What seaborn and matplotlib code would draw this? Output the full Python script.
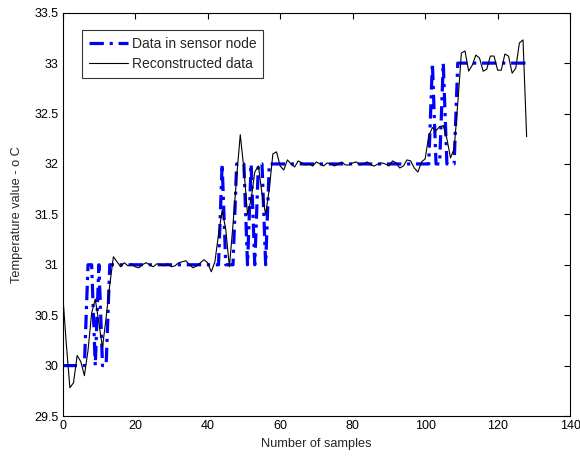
import matplotlib
matplotlib.use("Agg")
import matplotlib.pyplot as plt
import seaborn as sns
import numpy as np
import pandas as pd

# sample index
samples = np.arange(129)

# temperature read at the sensor node (quantised to whole degrees)
sensor = (
    [30, 30, 30, 30, 30, 30, 30]
    + [31, 31, 30, 31, 30, 30, 31]
    + [31] * 29
    + [31, 32, 31, 31, 31, 32, 32, 32, 31, 32, 31, 32, 32, 31, 32]
    + [32] * 44
    + [33, 32, 32, 33, 32, 32, 32, 33]
    + [33] * 19
)

# temperature reconstructed at the sink
reconstructed = [
    30.72, 30.22, 29.78, 29.83, 30.10, 30.04, 29.90, 30.15, 30.52, 30.66,
    30.42, 30.18, 30.48, 30.80, 31.08, 31.03, 30.98, 31.02, 30.99, 31.01,
    30.98, 30.97, 31.00, 31.02, 31.00, 30.98, 31.01, 31.00, 30.99, 31.01,
    30.98, 30.99, 31.02, 31.03, 31.04, 31.00, 30.97, 30.99, 31.02, 31.05,
    31.02, 30.93, 31.03, 31.30, 31.54, 31.35, 30.98, 31.40, 31.87, 32.29,
    31.95, 31.50, 31.65, 31.92, 31.98, 31.70, 31.50, 31.75, 32.10, 32.12,
    31.98, 31.94, 32.04, 32.00, 31.97, 32.03, 32.01, 31.99, 32.00, 31.98,
    32.02, 32.00, 31.98, 32.01, 32.00, 31.98, 32.00, 32.02, 31.99, 31.99,
    32.01, 32.02, 31.99, 32.00, 32.02, 31.99, 31.98, 32.00, 32.01, 32.00,
    31.98, 32.03, 32.01, 31.96, 31.98, 32.04, 32.03, 31.96, 31.92, 32.02,
    32.05, 32.28, 32.36, 32.33, 32.37, 32.38, 32.25, 32.06, 32.15, 32.60,
    33.10, 33.12, 32.92, 32.98, 33.08, 33.05, 32.92, 32.94, 33.07, 33.07,
    32.93, 32.93, 33.09, 33.07, 32.90, 32.95, 33.20, 33.23, 32.27,
]

x_ticks = [0, 20, 40, 60, 80, 100, 120, 140]
y_ticks = [29.5, 30, 30.5, 31, 31.5, 32, 32.5, 33, 33.5]
y_tick_labels = ["29.5", "30", "30.5", "31", "31.5", "32", "32.5", "33", "33.5"]

df = pd.DataFrame({"sample": samples, "sensor": sensor, "recon": reconstructed})

sns.set_style("white")
plt.rcParams["font.family"] = ["Liberation Sans", "DejaVu Sans"]

fig = plt.figure(figsize=(5.8, 4.57), dpi=100)
ax = fig.add_axes([0.108, 0.0897, 0.875, 0.8825])

sns.lineplot(data=df, x="sample", y="sensor", ax=ax, color="#0000ff",
             linewidth=2.3, linestyle=(0, (4.5, 1.8, 1.0, 1.8)),
             label="Data in sensor node", estimator=None)
sns.lineplot(data=df, x="sample", y="recon", ax=ax, color="black",
             linewidth=0.8, label="Reconstructed data", estimator=None)

ax.set_xlim(0, 140)
ax.set_ylim(29.5, 33.5)
ax.set_xticks(x_ticks)
ax.set_xticklabels([str(t) for t in x_ticks])
ax.set_yticks(y_ticks)
ax.set_yticklabels(y_tick_labels)
ax.tick_params(direction="in", length=4, width=0.8, top=True, right=True,
               labelsize=9, colors="black", pad=3)
for sp in ax.spines.values():
    sp.set_color("black")
    sp.set_linewidth(0.8)

ax.set_xlabel("Number of samples", fontsize=9.2, labelpad=4)
ax.set_ylabel("Temperature value - o C", fontsize=9.2, labelpad=8)

leg = ax.legend(loc="upper left", bbox_to_anchor=(0.038, 0.957),
                frameon=True, fancybox=False, fontsize=10,
                handlelength=2.8, handletextpad=0.3, borderpad=0.5,
                labelspacing=0.45, borderaxespad=0)
leg.get_frame().set_edgecolor("black")
leg.get_frame().set_linewidth(0.8)

fig.savefig("out.png", dpi=100)
